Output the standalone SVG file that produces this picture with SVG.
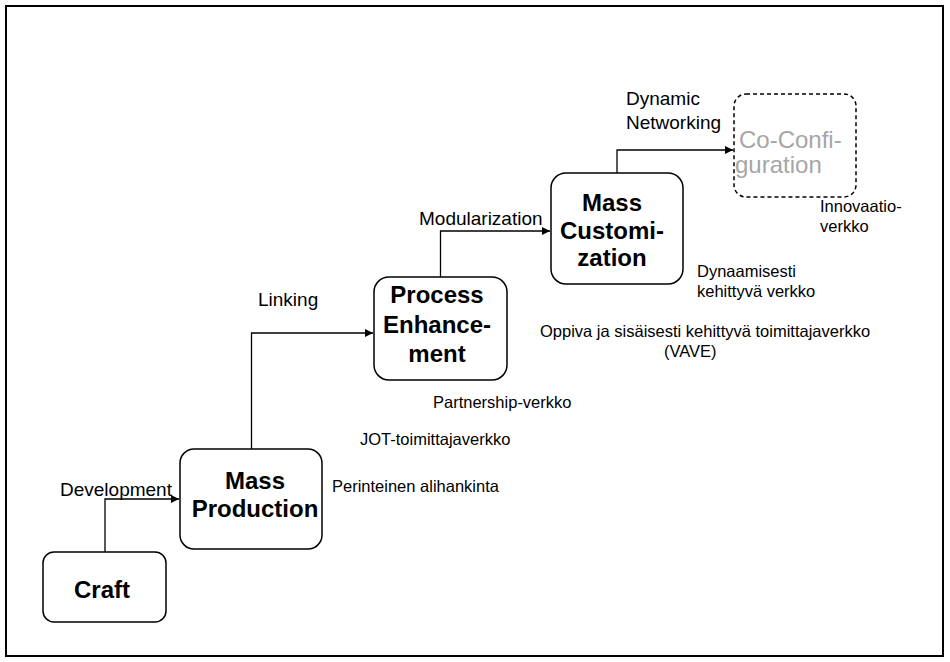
<svg xmlns="http://www.w3.org/2000/svg" width="950" height="662" viewBox="0 0 950 662">
<style>
.node{fill:#fff;stroke:#000;stroke-width:1.5}
.dash{fill:#fff;stroke:#000;stroke-width:1.5;stroke-dasharray:4 3}
.bt{font-family:"Liberation Sans",Arial,sans-serif;font-size:24px;font-weight:bold;fill:#000;text-anchor:middle}
.gt{font-family:"Liberation Sans",Arial,sans-serif;font-size:24px;fill:#a6a6a6}
.ct{font-family:"Liberation Sans",Arial,sans-serif;font-size:19px;fill:#000}
.st{font-family:"Liberation Sans",Arial,sans-serif;font-size:16.5px;fill:#000}
.conn{fill:none;stroke:#000;stroke-width:1.3}
</style>
<defs>
<marker id="arr" markerWidth="8" markerHeight="8" refX="8" refY="4" orient="auto" markerUnits="userSpaceOnUse">
<path d="M0,0 L8,4 L0,8 Z" fill="#000"/>
</marker>
</defs>
<rect x="0" y="0" width="950" height="662" fill="#fff"/>
<rect x="6" y="6" width="937" height="650" fill="none" stroke="#000" stroke-width="2"/>

<g id="connectors">
<path class="conn" d="M105,552 V499 H179" marker-end="url(#arr)"/>
<path class="conn" d="M251.5,449 V333 H373" marker-end="url(#arr)"/>
<path class="conn" d="M440.5,277 V231 H550" marker-end="url(#arr)"/>
<path class="conn" d="M617,173 V150 H733" marker-end="url(#arr)"/>
<text class="ct" x="60" y="496">Development</text>
<text class="ct" x="258" y="306">Linking</text>
<text class="ct" x="419" y="225">Modularization</text>
<text class="ct" x="626" y="105">Dynamic</text>
<text class="ct" x="626" y="129">Networking</text>
</g>

<g id="craft">
<rect class="node" x="43" y="552" width="123" height="70" rx="11"/>
<text class="bt" x="102" y="598">Craft</text>
</g>

<g id="mass-production">
<rect class="node" x="180" y="449" width="142" height="100" rx="14"/>
<text class="bt" x="255" y="489">Mass</text>
<text class="bt" x="255" y="517">Production</text>
</g>

<g id="process-enhancement">
<rect class="node" x="374" y="277" width="133" height="103" rx="15"/>
<text class="bt" x="437" y="303">Process</text>
<text class="bt" x="437" y="333">Enhance-</text>
<text class="bt" x="437" y="362">ment</text>
</g>

<g id="mass-customization">
<rect class="node" x="551" y="173" width="132" height="111" rx="15"/>
<text class="bt" x="612" y="211">Mass</text>
<text class="bt" x="612" y="239">Customi-</text>
<text class="bt" x="612" y="266">zation</text>
</g>

<g id="co-configuration">
<rect class="dash" x="734" y="94" width="122" height="103" rx="12"/>
<text class="gt" x="739" y="148">Co-Confi-</text>
<text class="gt" x="735" y="173">guration</text>
</g>

<g id="labels">
<text class="st" x="820" y="212">Innovaatio-</text>
<text class="st" x="820" y="232">verkko</text>
<text class="st" x="697" y="277">Dynaamisesti</text>
<text class="st" x="697" y="297">kehittyvä verkko</text>
<text class="st" x="540" y="337" font-size="17">Oppiva ja sisäisesti kehittyvä toimittajaverkko</text>
<text class="st" x="664" y="357" font-size="17">(VAVE)</text>
<text class="st" x="433" y="408">Partnership-verkko</text>
<text class="st" x="360" y="445">JOT-toimittajaverkko</text>
<text class="st" x="332" y="492">Perinteinen alihankinta</text>
</g>
</svg>
